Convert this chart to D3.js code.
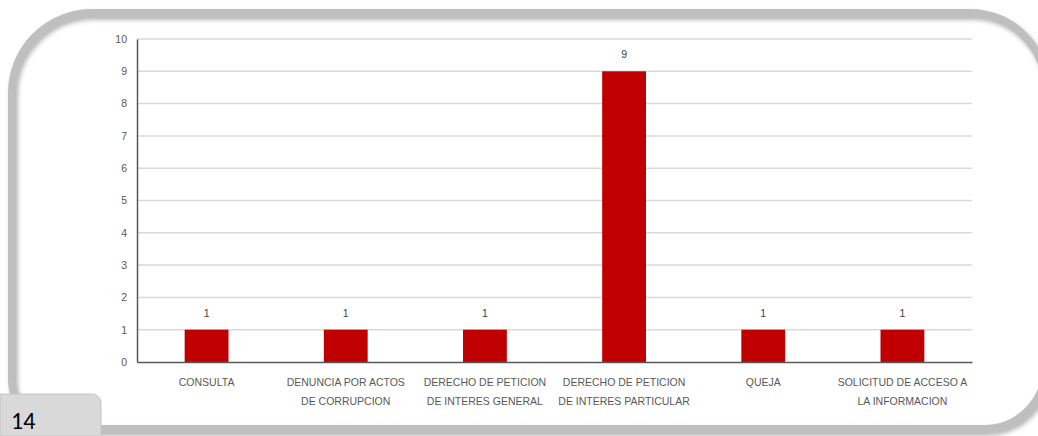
<!DOCTYPE html>
<html>
<head>
<meta charset="utf-8">
<script src="https://cdn.jsdelivr.net/npm/d3@7"></script>
<style>
  body { margin: 0; background: #fff; }
  svg { display: block; }
</style>
</head>
<body>
<div id="vis"></div>
<script>
// data
let categories = [
  ['CONSULTA'],
  ['DENUNCIA POR ACTOS', 'DE CORRUPCION'],
  ['DERECHO DE PETICION', 'DE INTERES GENERAL'],
  ['DERECHO DE PETICION', 'DE INTERES PARTICULAR'],
  ['QUEJA'],
  ['SOLICITUD DE ACCESO A', 'LA INFORMACION']
];
let values = [1, 1, 1, 9, 1, 1];
let yTicks = [0, 1, 2, 3, 4, 5, 6, 7, 8, 9, 10];
let pageNumber = '14';

let W = 1038, H = 436;
let margin = {top: 39, left: 137, right: 66, bottom: 74};
let width = W - margin.left - margin.right,
    height = H - margin.top - margin.bottom;

let svg = d3.select('#vis')
  .append('svg')
  .attr('width', W)
  .attr('height', H);

// rounded frame with a soft shadow
let defs = svg.append('defs');
let f = defs.append('filter').attr('id', 'sh').attr('x', '-10%').attr('y', '-10%').attr('width', '120%').attr('height', '130%');
f.append('feDropShadow').attr('dx', 2).attr('dy', 3).attr('stdDeviation', 2).attr('flood-color', '#888').attr('flood-opacity', 0.6);

let fx0 = 12, fy0 = 13, fx1 = 1046, fy1 = 429;
let rTL = 80, rTR = 76, rBR = 62, rBL = 50;
let framePath = `M${fx0 + rTL},${fy0} L${fx1 - rTR},${fy0} A${rTR},${rTR} 0 0 1 ${fx1},${fy0 + rTR}
  L${fx1},${fy1 - rBR} A${rBR},${rBR} 0 0 1 ${fx1 - rBR},${fy1} L${fx0 + rBL},${fy1}
  A${rBL},${rBL} 0 0 1 ${fx0},${fy1 - rBL} L${fx0},${fy0 + rTL} A${rTL},${rTL} 0 0 1 ${fx0 + rTL},${fy0} Z`;
svg.append('path')
  .attr('d', framePath)
  .attr('fill', 'none')
  .attr('stroke', '#bfbfbf')
  .attr('stroke-width', 8)
  .attr('filter', 'url(#sh)');

// page number tab
svg.append('path')
  .attr('d', `M0,394 L92,394 A9,9 0 0 1 101,403 L101,436 L0,436 Z`)
  .attr('fill', '#d9d9d9')
  .attr('stroke', '#c4c4c4')
  .attr('stroke-width', 1);
svg.append('text')
  .attr('x', 11)
  .attr('y', 429)
  .attr('font-family', 'Carlito, "Liberation Sans", sans-serif')
  .attr('font-size', 24)
  .attr('fill', '#000')
  .text(pageNumber);

let g = svg.append('g').attr('transform', `translate(${margin.left},${margin.top})`);

let x = d3.scaleBand()
  .domain(d3.range(categories.length))
  .range([0, width])
  .paddingInner(0.685)
  .paddingOuter(0.3425);

let y = d3.scaleLinear()
  .domain([0, 10])
  .range([height, 0]);

let font = '"Liberation Sans Narrow", "Liberation Sans", Arial, sans-serif';

// gridlines
g.selectAll('.grid')
  .data(yTicks.filter(d => d > 0))
  .enter().append('line')
  .attr('x1', 0).attr('x2', width)
  .attr('y1', d => y(d)).attr('y2', d => y(d))
  .attr('stroke', '#d9d9d9')
  .attr('stroke-width', 1.5);

// y axis
let yAxis = g.append('g')
  .call(d3.axisLeft(y).tickValues(yTicks).tickSize(0).tickPadding(10));
yAxis.select('.domain').attr('stroke', '#595959').attr('stroke-width', 1.5);
yAxis.selectAll('text')
  .attr('font-family', font)
  .attr('font-size', 10.5)
  .attr('fill', '#595959');

// bars
g.selectAll('.bar')
  .data(values)
  .enter().append('rect')
  .attr('x', (d, i) => x(i))
  .attr('y', d => y(d))
  .attr('width', x.bandwidth())
  .attr('height', d => height - y(d))
  .attr('fill', '#c00000');

// value labels
g.selectAll('.val')
  .data(values)
  .enter().append('text')
  .attr('x', (d, i) => x(i) + x.bandwidth() / 2)
  .attr('y', d => y(d) - 13)
  .attr('text-anchor', 'middle')
  .attr('font-family', font)
  .attr('font-size', 10.5)
  .attr('fill', '#404040')
  .text(d => d);

// x axis
let xAxis = g.append('g')
  .attr('transform', `translate(0,${height})`)
  .call(d3.axisBottom(x).tickSize(0).tickFormat(''));
xAxis.select('.domain').attr('stroke', '#595959').attr('stroke-width', 1.5);

let labels = g.selectAll('.xlab')
  .data(categories)
  .enter().append('text')
  .attr('x', (d, i) => x(i) + x.bandwidth() / 2)
  .attr('y', height + 24)
  .attr('text-anchor', 'middle')
  .attr('font-family', font)
  .attr('font-size', 10.5)
  .attr('fill', '#595959');
labels.each(function(d) {
  let t = d3.select(this);
  d.forEach((line, k) => {
    t.append('tspan')
      .attr('x', t.attr('x'))
      .attr('dy', k === 0 ? 0 : 19)
      .text(line);
  });
});
</script>
</body>
</html>
